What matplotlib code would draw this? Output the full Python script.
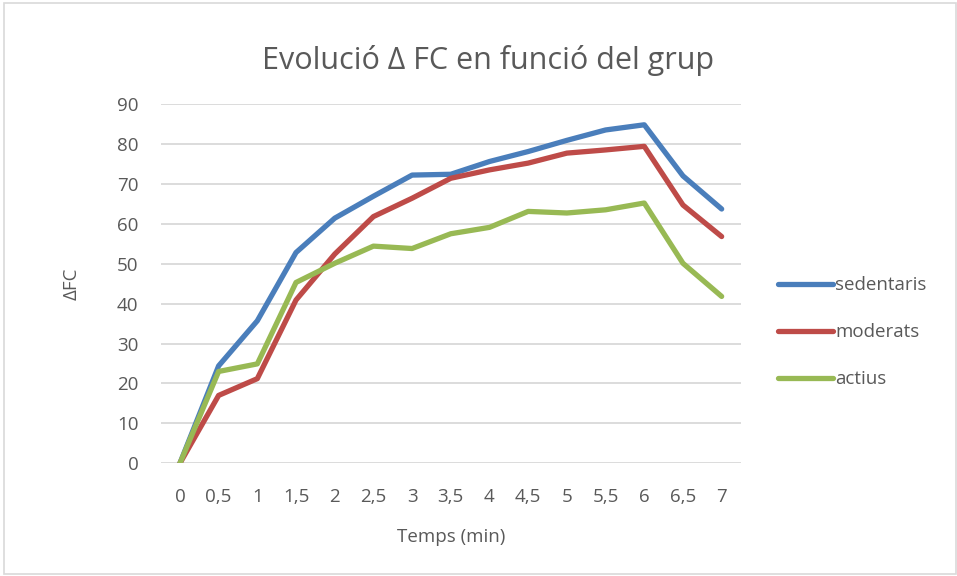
import matplotlib.pyplot as plt
from matplotlib.patches import Rectangle

# Temps (min) categories and the three groups
temps = ['0', '0,5', '1', '1,5', '2', '2,5', '3', '3,5', '4', '4,5', '5', '5,5', '6', '6,5', '7']
sedentaris = [0, 24.4, 35.7, 52.8, 61.4, 66.9, 72.2, 72.4, 75.6, 78.1, 80.9, 83.5, 84.8, 72.0, 63.7]
moderats = [0, 17.0, 21.2, 40.9, 52.4, 61.8, 66.4, 71.4, 73.5, 75.2, 77.7, 78.5, 79.4, 64.7, 56.8]
actius = [0, 23.0, 24.9, 45.3, 50.1, 54.4, 53.8, 57.5, 59.1, 63.1, 62.7, 63.5, 65.2, 50.1, 41.8]

plt.rcParams['font.family'] = ['Open Sans', 'DejaVu Sans']

fig = plt.figure(figsize=(9.57, 5.76), dpi=100)
ax = fig.add_axes([0.1678, 0.1957, 0.6065, 0.6237])

# frame around the whole chart, like the Excel chart area
fig.patches.append(Rectangle((0.004, 0.004), 0.995, 0.99, transform=fig.transFigure,
                             fill=False, edgecolor='#d9d9d9', linewidth=1.2))

xs = range(len(temps))
ax.plot(xs, sedentaris, color='#4a7ebb', lw=3.8, label='sedentaris', solid_capstyle='round')
ax.plot(xs, moderats, color='#be4b48', lw=3.8, label='moderats', solid_capstyle='round')
ax.plot(xs, actius, color='#98b954', lw=3.8, label='actius', solid_capstyle='round')

ax.set_xlim(-0.5, len(temps) - 0.5)
ax.set_ylim(0, 90)
ax.set_yticks(range(0, 91, 10))
ax.set_xticks(list(xs))
ax.set_xticklabels(temps)
ax.grid(axis='y', color='#d9d9d9', lw=1.3)
ax.set_axisbelow(True)
for s in ax.spines.values():
    s.set_visible(False)
ax.tick_params(length=0, labelsize=13.5, colors='#595959')
ax.tick_params(axis='x', pad=18)
ax.tick_params(axis='y', pad=16)

ax.set_xlabel('Temps (min)', fontsize=13.5, color='#595959', labelpad=16)
ax.set_ylabel('ΔFC', fontsize=13.5, color='#595959', labelpad=26)
fig.text(0.51, 0.895, 'Evolució Δ FC en funció del grup', ha='center', va='center',
         fontsize=22, color='#595959')

ax.legend(loc='center left', bbox_to_anchor=(1.035, 0.365), frameon=False, fontsize=13.5,
          labelcolor='#595959', handlelength=2.9, handletextpad=0.15, labelspacing=1.55)

fig.savefig('out.png', dpi=100)
